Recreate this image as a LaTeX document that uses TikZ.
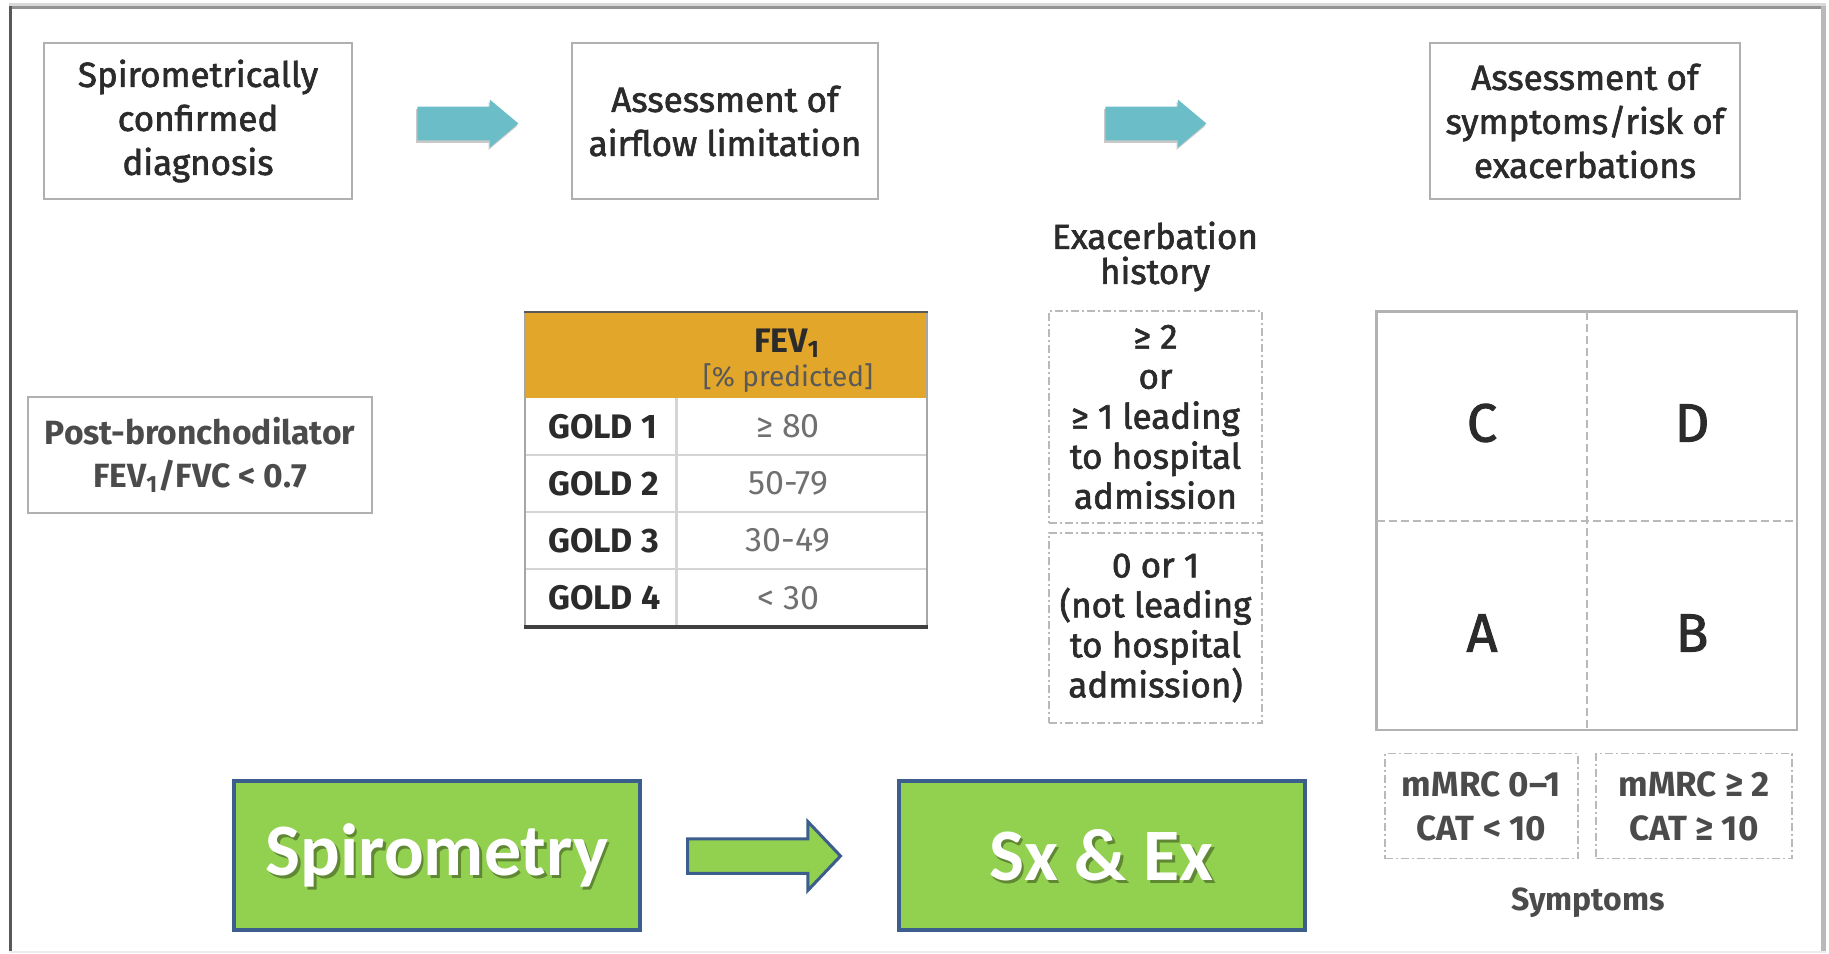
\documentclass[tikz,border=0pt]{standalone}
\usepackage{fontspec}
\setmainfont{Fira Sans}
\newfontfamily\semi[FakeBold=1.8]{Fira Sans}
\newfontfamily\calib{Carlito}
\usetikzlibrary{shapes.arrows,shadows}

\definecolor{ink}{HTML}{2B2B2B}
\definecolor{soft}{HTML}{707070}
\definecolor{teal}{HTML}{6BBEC8}
\definecolor{amber}{HTML}{E2A62B}
\definecolor{leaf}{HTML}{92D050}
\definecolor{navy}{HTML}{3B5E8C}
\definecolor{rule}{HTML}{B0B0B0}
\definecolor{cellrule}{HTML}{D4D4D4}

\tikzset{
  stagebox/.style={draw=rule, line width=1.4pt, fill=white, inner sep=0pt,
    outer sep=0pt, minimum width=#1, minimum height=78pt, align=center,
    text=ink, font=\semi\fontsize{17.5}{22}\selectfont},
  tealarrow/.style={single arrow, fill=teal, draw=none, inner sep=0pt,
    anchor=tail, minimum height=50.5pt, minimum width=23.5pt,
    single arrow head extend=3.5pt, single arrow tip angle=80,
    drop shadow={shadow xshift=-0.6pt, shadow yshift=-1.2pt, fill=gray!60, opacity=0.7}},
  dotbox/.style={draw=gray!55, line width=0.8pt,
    dash pattern=on 4pt off 1.5pt on 1pt off 1.5pt,
    inner sep=0pt, outer sep=0pt, align=center, text=ink},
  greenbox/.style={draw=navy, line width=2pt, fill=leaf, inner sep=0pt,
    minimum width=203pt, minimum height=74.5pt},
  greenlabel/.style={text=white, font=\calib\bfseries\fontsize{37}{40}\selectfont},
  greenshade/.style={text=black, opacity=0.35, font=\calib\bfseries\fontsize{37}{40}\selectfont},
  goldlabel/.style={anchor=west, text=ink, font=\bfseries\fontsize{17}{20}\selectfont},
  goldvalue/.style={text=soft, font=\fontsize{17}{20}\selectfont},
  quadletter/.style={text=ink, font=\semi\fontsize{27}{30}\selectfont},
  symbox/.style={dotbox, minimum height=52.5pt, font=\bfseries\fontsize{17.5}{22}\selectfont, text=ink!85}
}

\begin{document}
\begin{tikzpicture}[x=0.5pt, y=-0.5pt]
\useasboundingbox (0,0) rectangle (1829,953);

% outer frame
\draw[line width=1.5pt, draw=gray!30] (9,4.5) -- (1826,4.5);
\draw[line width=1.5pt, draw=gray!85] (9,7.5) -- (1826,7.5);
\draw[line width=1.5pt, draw=black!65] (10.5,6) -- (10.5,953);
\draw[line width=2.5pt, draw=gray!55] (1823.5,6) -- (1823.5,953);
\draw[line width=0.8pt, draw=gray!15] (9,952) -- (1826,952);

% top row of stages
\node[stagebox=154pt] (diag) at (198,121) {Spirometrically\\confirmed\\diagnosis};
\node[stagebox=153pt] (airflow) at (725,121) {Assessment of\\airflow limitation};
\node[stagebox=155pt] (symrisk) at (1585,121) {Assessment of\\symptoms/risk of\\exacerbations};
\node[tealarrow] (arrA) at (417,123.5) {\rule{0pt}{16.5pt}};
\node[tealarrow] (arrB) at (1105,123.5) {\rule{0pt}{16.5pt}};

% spirometric criterion
\node[stagebox=172pt, minimum height=58pt, font=\bfseries\fontsize{16.8}{21.5}\selectfont,
      text=ink!85] (post) at (200,455)
  {Post-bronchodilator\\FEV\textsubscript{1}/FVC < 0.7};

% GOLD grades table
\fill[amber] (525,312) rectangle (927,398);
\node[anchor=base, text=ink, font=\bfseries\fontsize{17}{18}\selectfont] (fevhead) at (787,352)
  {FEV\textsubscript{1}};
\node[anchor=base, text=black!65, font=\fontsize{14}{16}\selectfont] (fevunit) at (788,386)
  {[\% predicted]};
\foreach \y in {455,512,569}
  \draw[line width=1.2pt, draw=cellrule] (525,\y) -- (927,\y);
\draw[line width=1.5pt, draw=cellrule] (676,398) -- (676,627);
\draw[line width=1.2pt, draw=gray!70] (525,312) -- (525,627);
\draw[line width=1.2pt, draw=gray!70] (927,312) -- (927,627);
\draw[line width=1.2pt, draw=black!65] (524,312) -- (928,312);
\draw[line width=2pt, draw=black!75] (524,627) -- (928,627);
\node[goldlabel] (g1) at (541,426.5) {GOLD 1};
\node[goldlabel] (g2) at (541,483.5) {GOLD 2};
\node[goldlabel] (g3) at (541,540.5) {GOLD 3};
\node[goldlabel] (g4) at (541,598) {GOLD 4};
\node[goldvalue] (v1) at (788,426.5) {≥ 80};
\node[goldvalue] (v2) at (788,483.5) {50-79};
\node[goldvalue] (v3) at (788,540.5) {30-49};
\node[goldvalue] (v4) at (788,598) {< 30};

% exacerbation history
\node[align=center, text=ink, font=\semi\fontsize{17.5}{17.5}\selectfont] (exahead) at (1155,256.5)
  {Exacerbation\\history};
\node[dotbox, minimum width=106.5pt, minimum height=106pt,
      font=\semi\fontsize{17.5}{20}\selectfont] (exahigh) at (1155.5,417)
  {≥ 2\\or\\≥ 1 leading\\to hospital\\admission};
\node[dotbox, minimum width=106.5pt, minimum height=95pt,
      font=\semi\fontsize{17.5}{20}\selectfont] (exalow) at (1155.5,628)
  {0 or 1\\(not leading\\to hospital\\admission)};

% ABCD assessment grid
\node[draw=gray!60, line width=1.2pt, inner sep=0pt, outer sep=0pt,
      minimum width=210.2pt, minimum height=209.2pt] (grid) at (1586.8,520.75) {};
\draw[gray!55, line width=0.9pt, dash pattern=on 4pt off 2pt] (grid.north) -- (grid.south);
\draw[gray!55, line width=0.9pt, dash pattern=on 4pt off 2pt] (grid.west) -- (grid.east);
\node[quadletter] (qC) at (1482,423) {C};
\node[quadletter] (qD) at (1692,423) {D};
\node[quadletter] (qA) at (1482,633) {A};
\node[quadletter] (qB) at (1692,633) {B};

% symptom thresholds
\node[symbox, minimum width=96.5pt] (symlow) at (1481.5,806) {mMRC 0–1\\CAT < 10};
\node[symbox, minimum width=98pt] (symhigh) at (1694,806) {mMRC ≥ 2\\CAT ≥ 10};
\node[text=ink!85, font=\bfseries\fontsize{16}{18}\selectfont] (symlabel) at (1588,903) {Symptoms};

% summary boxes
\node[greenbox] (spiro) at (437,855.5) {};
\node[greenbox] (sxex) at (1101.5,855.5) {};
\node[greenshade] at ([xshift=1.2pt,yshift=-1.2pt]spiro.center) {Spirometry};
\node[greenlabel] (spirotxt) at (spiro.center) {Spirometry};
\node[greenshade] at ([xshift=1.2pt,yshift=-1.2pt]sxex.center) {Sx \& Ex};
\node[greenlabel] (sxextxt) at (sxex.center) {Sx \& Ex};
\node[single arrow, draw=navy, fill=leaf, line width=1.5pt, inner sep=0pt,
      anchor=tail, minimum height=76.5pt, minimum width=34.5pt,
      single arrow head extend=8.5pt, single arrow tip angle=93] (arrG) at (686,856)
  {\rule{0pt}{15.5pt}};
\end{tikzpicture}
\end{document}
